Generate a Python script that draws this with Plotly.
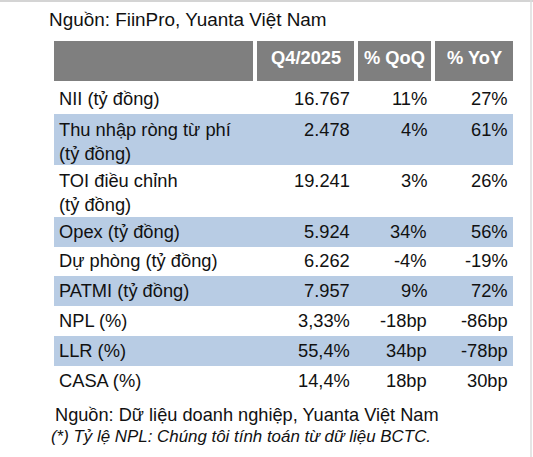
import plotly.graph_objects as go

# ---------------- data ----------------
title_text = "Nguồn: FiinPro, Yuanta Việt Nam"
headers = ["", "Q4/2025", "% QoQ", "% YoY"]
row_labels = [
    "NII (tỷ đồng)",
    "Thu nhập ròng từ phí<br>(tỷ đồng)",
    "TOI điều chỉnh<br>(tỷ đồng)",
    "Opex (tỷ đồng)",
    "Dự phòng (tỷ đồng)",
    "PATMI (tỷ đồng)",
    "NPL (%)",
    "LLR (%)",
    "CASA (%)",
]
q4_values = ["16.767", "2.478", "19.241", "5.924", "6.262", "7.957", "3,33%", "55,4%", "14,4%"]
qoq_changes = ["11%", "4%", "3%", "34%", "-4%", "9%", "-18bp", "34bp", "18bp"]
yoy_changes = ["27%", "61%", "26%", "56%", "-19%", "72%", "-86bp", "-78bp", "30bp"]
row_shaded = [False, True, False, True, False, True, False, True, False]
source_text = "Nguồn: Dữ liệu doanh nghiệp, Yuanta Việt Nam"
note_text = "(*) Tỷ lệ NPL: Chúng tôi tính toán từ dữ liệu BCTC."

# ---------------- style / layout ----------------
W, H = 533, 457
FONT = "Liberation Sans, Arial, sans-serif"
TXT = "#111111"
HEADER_FILL = "#7f7f7f"
SHADE_FILL = "#b8cce4"
col_left = [54, 257, 358, 435]
col_right = [253, 354, 431, 513]
header_top, header_bottom = 41, 81
header_text_y = 57
body_top = 84
single_h, double_h = 29.8, 51.5
line_gap = 24
value_right = [352, 429, 509.5]
label_x = 56.5
FS = 18.3

# row geometry derived from line counts
tops, heights = [], []
y = body_top
for lab in row_labels:
    n = lab.count("<br>") + 1
    h = single_h if n == 1 else double_h
    tops.append(y)
    heights.append(h)
    y += h

fig = go.Figure()

# header cells
fig.add_trace(go.Bar(
    orientation="h",
    y=[(header_top + header_bottom) / 2] * len(headers),
    x=[r - l for l, r in zip(col_left, col_right)],
    base=col_left,
    width=[header_bottom - header_top] * len(headers),
    marker=dict(color=HEADER_FILL, line=dict(width=0)),
    hoverinfo="skip",
))

# shaded body rows
sh_y = [t + h / 2 for t, h, s in zip(tops, heights, row_shaded) if s]
sh_w = [h for h, s in zip(heights, row_shaded) if s]
fig.add_trace(go.Bar(
    orientation="h",
    y=sh_y,
    x=[col_right[-1] - col_left[0]] * len(sh_y),
    base=[col_left[0]] * len(sh_y),
    width=sh_w,
    marker=dict(color=SHADE_FILL, line=dict(width=0)),
    hoverinfo="skip",
))

ann = []

def add_text(x, y, text, xanchor="left", size=FS, color=TXT, bold=False, italic=False):
    t = text
    if bold:
        t = "<b>" + t + "</b>"
    if italic:
        t = "<i>" + t + "</i>"
    ann.append(dict(x=x, y=y, xref="x", yref="y", text=t, showarrow=False,
                    xanchor=xanchor, yanchor="middle",
                    font=dict(family=FONT, size=size, color=color)))

add_text(47, 19.5, title_text, size=18.9)

for i, htxt in enumerate(headers):
    if htxt:
        add_text((col_left[i] + col_right[i]) / 2, header_text_y, htxt,
                 xanchor="center", color="white", bold=True)

for i, lab in enumerate(row_labels):
    lines = lab.split("<br>")
    mid = tops[i] + heights[i] / 2
    if len(lines) == 1:
        ys = [mid - 0.7]
    else:
        c = mid + 1.5
        ys = [c - line_gap / 2 + k * line_gap for k in range(len(lines))]
    for ly, lt in zip(ys, lines):
        add_text(label_x, ly, lt)
    for j, col in enumerate([q4_values, qoq_changes, yoy_changes]):
        add_text(value_right[j], ys[0], col[i], xanchor="right")

add_text(52.5, 414.5, source_text, size=18.2)
add_text(48.5, 436.5, note_text, size=16.9, italic=True)

shapes = [
    dict(type="line", xref="x", yref="y", x0=0, x1=W, y0=1, y1=1,
         line=dict(color="#d4d4d4", width=2)),
    dict(type="line", xref="x", yref="y", x0=531, x1=531, y0=0, y1=H,
         line=dict(color="#dcdcdc", width=1.5)),
]

fig.update_layout(
    width=W, height=H,
    margin=dict(l=0, r=0, t=0, b=0),
    paper_bgcolor="white", plot_bgcolor="white",
    barmode="overlay", bargap=0,
    showlegend=False,
    annotations=ann,
    shapes=shapes,
    xaxis=dict(range=[0, W], visible=False, fixedrange=True),
    yaxis=dict(range=[H, 0], visible=False, fixedrange=True),
)

fig.write_html("out.html", config={"displayModeBar": False},
               post_script="document.body.style.margin='0';document.body.style.overflow='hidden';")
